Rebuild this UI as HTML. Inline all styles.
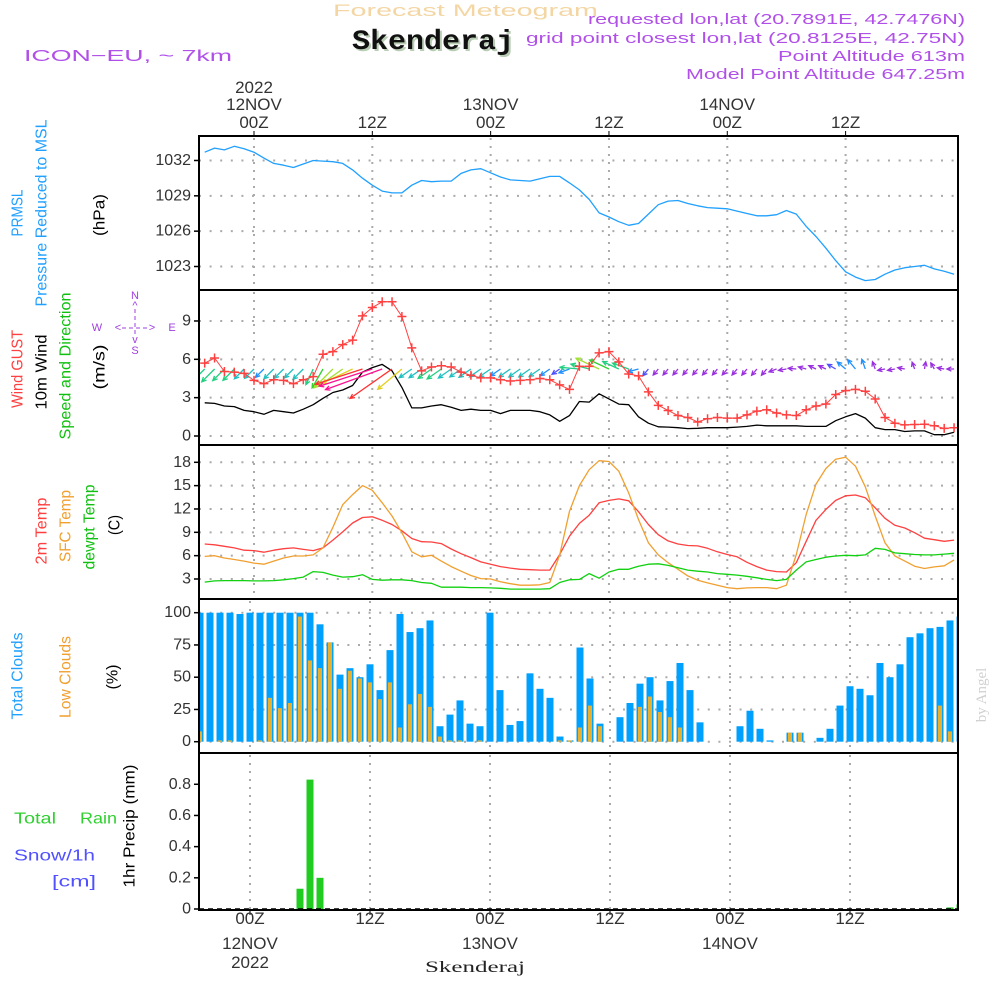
<!DOCTYPE html>
<html><head><meta charset="utf-8"><title>Meteogram Skenderaj</title>
<style>
html,body{margin:0;padding:0;background:#fff;}
svg{display:block;font-family:"Liberation Sans",sans-serif;}
</style></head>
<body>
<svg id="chart" width="1000" height="1000" viewBox="0 0 1000 1000" xmlns="http://www.w3.org/2000/svg">
<defs><clipPath id="plotclip"><rect x="200" y="136" width="758" height="774"/></clipPath></defs>
<rect x="0" y="0" width="1000" height="1000" fill="#fff"/>
<!-- header -->
<text x="333" y="16" textLength="265" lengthAdjust="spacingAndGlyphs" font-size="17" fill="#f3d6a4">Forecast Meteogram</text>
<text x="354" y="51" textLength="162" lengthAdjust="spacingAndGlyphs" font-family="Liberation Mono, monospace" font-weight="bold" font-size="28" fill="#b9cdb5">Skenderaj</text>
<text x="352" y="49" textLength="162" lengthAdjust="spacingAndGlyphs" font-family="Liberation Mono, monospace" font-weight="bold" font-size="28" fill="#111">Skenderaj</text>
<text x="24" y="61" textLength="208" lengthAdjust="spacingAndGlyphs" font-size="16" fill="#b050e8">ICON−EU, ~ 7km</text>
<g font-size="15" fill="#b050e8" text-anchor="end">
<text x="965" y="24" textLength="377" lengthAdjust="spacingAndGlyphs">requested lon,lat (20.7891E, 42.7476N)</text>
<text x="965" y="43" textLength="439" lengthAdjust="spacingAndGlyphs">grid point closest lon,lat (20.8125E, 42.75N)</text>
<text x="965" y="61" textLength="187" lengthAdjust="spacingAndGlyphs">Point Altitude 613m</text>
<text x="965" y="79" textLength="279" lengthAdjust="spacingAndGlyphs">Model Point Altitude 647.25m</text>
</g>
<text transform="rotate(-90 982 695)" x="982" y="695" text-anchor="middle" dominant-baseline="central" font-family="Liberation Serif, serif" font-size="15" fill="#d0d0d0">by Angel</text>

<!-- left labels -->
<g font-size="16" text-anchor="middle" dominant-baseline="central">
<text transform="rotate(-90 18 213)" x="18" y="213" textLength="47" lengthAdjust="spacingAndGlyphs" fill="#20a0ff">PRMSL</text>
<text transform="rotate(-90 42 213)" x="42" y="213" textLength="187" lengthAdjust="spacingAndGlyphs" fill="#20a0ff">Pressure Reduced to MSL</text>
<text transform="rotate(-90 100 215)" x="100" y="215" textLength="42" lengthAdjust="spacingAndGlyphs" fill="#000">(hPa)</text>
<text transform="rotate(-90 18 369)" x="18" y="369" textLength="78" lengthAdjust="spacingAndGlyphs" fill="#ff4040">Wind GUST</text>
<text transform="rotate(-90 42 372)" x="42" y="372" textLength="75" lengthAdjust="spacingAndGlyphs" fill="#000">10m Wind</text>
<text transform="rotate(-90 66 366)" x="66" y="366" textLength="147" lengthAdjust="spacingAndGlyphs" fill="#10c010">Speed and Direction</text>
<text transform="rotate(-90 100 367)" x="100" y="367" textLength="45" lengthAdjust="spacingAndGlyphs" fill="#000">(m/s)</text>
<text transform="rotate(-90 42 531)" x="42" y="531" textLength="67" lengthAdjust="spacingAndGlyphs" fill="#ff4040">2m Temp</text>
<text transform="rotate(-90 66 526)" x="66" y="526" textLength="72" lengthAdjust="spacingAndGlyphs" fill="#f0a030">SFC Temp</text>
<text transform="rotate(-90 90 527)" x="90" y="527" textLength="85" lengthAdjust="spacingAndGlyphs" fill="#10c010">dewpt Temp</text>
<text transform="rotate(-90 115 525)" x="115" y="525" textLength="20" lengthAdjust="spacingAndGlyphs" fill="#000">(C)</text>
<text transform="rotate(-90 18 676)" x="18" y="676" textLength="87" lengthAdjust="spacingAndGlyphs" fill="#20a0ff">Total Clouds</text>
<text transform="rotate(-90 66 677)" x="66" y="677" textLength="82" lengthAdjust="spacingAndGlyphs" fill="#f0a030">Low Clouds</text>
<text transform="rotate(-90 113 677)" x="113" y="677" textLength="25" lengthAdjust="spacingAndGlyphs" fill="#000">(%)</text>
<text transform="rotate(-90 130 826)" x="130" y="826" textLength="123" lengthAdjust="spacingAndGlyphs" fill="#000">1hr Precip (mm)</text>
</g>
<g font-size="16" dominant-baseline="central">
<text x="14" y="819" textLength="42" lengthAdjust="spacingAndGlyphs" fill="#30d030">Total</text>
<text x="80" y="819" textLength="37" lengthAdjust="spacingAndGlyphs" fill="#30d030">Rain</text>
<text x="14" y="856" textLength="81" lengthAdjust="spacingAndGlyphs" fill="#5050ff">Snow/1h</text>
<text x="52" y="882" textLength="44" lengthAdjust="spacingAndGlyphs" fill="#5050ff">[cm]</text>
</g>
<g font-size="11" fill="#a040e0" text-anchor="middle" dominant-baseline="central">
<text x="135" y="296">N</text><text x="135" y="306">^</text>
<text x="97" y="328">W</text><text x="118" y="328">&lt;</text><text x="152" y="328">&gt;</text><text x="172" y="328">E</text>
<text x="135" y="340">v</text><text x="135" y="351">S</text>
<line x1="122" y1="328" x2="148" y2="328" stroke="#a040e0" stroke-width="1" stroke-dasharray="4,3"/>
<line x1="135" y1="309" x2="135" y2="337" stroke="#a040e0" stroke-width="1" stroke-dasharray="4,3"/>
</g>
<g id="grid"></g>
<g id="marks" clip-path="url(#plotclip)"></g>
<g id="axes"></g>
<text x="475" y="972" text-anchor="middle" font-family="Liberation Serif, serif" font-size="16" textLength="100" lengthAdjust="spacingAndGlyphs" fill="#222">Skenderaj</text>
</svg>
<script>
// hourly data, index 0 = hour -5 (11NOV 19Z) ... index 76 = hour 71
const hours = Array.from({length: 77}, (_, i) => i - 5);
const pressure = [1032.7,1033.05,1032.9,1033.2,1033.0,1032.7,1032.2,1031.75,1031.6,1031.4,1031.7,1032.0,1031.95,1031.9,1031.75,1031.2,1030.5,1029.9,1029.4,1029.25,1029.25,1029.9,1030.3,1030.2,1030.25,1030.25,1030.9,1031.2,1031.3,1030.95,1030.6,1030.35,1030.3,1030.25,1030.45,1030.65,1030.65,1030.1,1029.5,1028.7,1027.55,1027.2,1026.8,1026.5,1026.65,1027.45,1028.25,1028.55,1028.6,1028.35,1028.15,1028.0,1027.95,1027.9,1027.7,1027.5,1027.3,1027.3,1027.4,1027.75,1027.45,1026.4,1025.55,1024.55,1023.5,1022.55,1022.1,1021.8,1021.9,1022.35,1022.7,1022.9,1023.0,1023.1,1022.8,1022.6,1022.35];
const gust = [5.7,6.1,5.05,5.0,4.9,4.35,4.1,4.4,4.35,4.1,4.4,4.65,6.4,6.6,7.15,7.5,9.4,10.05,10.5,10.5,9.35,6.9,5.1,5.4,5.5,5.4,5.0,4.75,4.55,4.55,4.4,4.3,4.35,4.4,4.5,4.4,4.0,3.65,5.45,5.45,6.5,6.6,5.8,4.85,4.7,3.45,2.4,2.0,1.6,1.45,1.1,1.35,1.45,1.4,1.4,1.65,1.95,2.05,1.8,1.65,1.6,2.05,2.35,2.5,3.25,3.55,3.65,3.5,2.9,1.45,1.0,0.87,0.9,0.92,0.8,0.6,0.65];
const windSpeed = [2.6,2.55,2.35,2.3,2.0,1.9,1.7,2.0,1.9,1.8,2.1,2.45,2.95,3.4,3.6,3.95,5.0,5.35,5.6,5.1,3.8,2.2,2.2,2.35,2.45,2.25,2.0,2.1,2.0,2.0,1.75,2.0,2.0,2.0,1.9,1.65,1.15,1.6,2.7,2.65,3.3,2.9,2.5,2.45,1.5,1.0,0.72,0.7,0.65,0.58,0.6,0.65,0.65,0.65,0.7,0.75,0.85,0.8,0.8,0.8,0.8,0.75,0.75,0.75,1.2,1.5,1.75,1.4,0.65,0.5,0.5,0.35,0.4,0.4,0.1,0.1,0.3];
const windDirDeg = [225,225,225,225,225,225,225,225,225,225,225,245,240,225,215,205,198,198,200,215,220,215,215,215,215,215,215,215,215,215,215,215,215,215,215,215,215,200,175,165,155,155,155,160,195,230,230,230,230,230,230,230,230,230,230,230,230,230,200,190,175,165,155,155,150,140,130,110,110,190,190,170,110,80,120,170,180];
const temp2m = [7.5,7.4,7.2,7.0,6.7,6.65,6.45,6.7,6.9,7.0,6.8,6.65,7.0,8.0,9.05,10.2,10.9,11.0,10.55,10.0,9.2,8.2,7.8,7.75,7.55,6.85,6.25,5.75,5.2,4.9,4.6,4.4,4.25,4.2,4.15,4.15,6.15,8.5,10.15,11.2,12.8,13.1,13.3,13.05,11.65,10.0,8.7,7.9,7.5,7.3,7.25,6.95,6.5,6.15,5.85,5.15,4.6,4.15,3.95,3.9,5.1,7.85,10.55,11.95,13.1,13.7,13.8,13.45,12.15,10.8,9.9,9.55,8.95,8.25,8.05,7.85,8.0];
const tempSfc = [5.9,6.0,5.7,5.5,5.3,5.05,4.9,5.3,5.7,5.95,5.95,6.1,7.0,9.65,12.55,13.85,15.0,14.4,12.8,11.1,8.95,6.5,5.85,6.05,5.3,4.6,4.0,3.45,3.05,3.0,2.65,2.4,2.2,2.2,2.25,2.55,6.1,11.7,15.0,17.05,18.2,18.1,16.85,14.05,10.65,7.65,6.1,5.1,4.25,3.4,2.85,2.5,2.2,1.9,1.75,1.85,1.9,1.9,1.75,2.2,6.15,11.3,15.2,17.2,18.4,18.65,17.5,14.85,11.1,7.65,5.95,5.3,4.65,4.35,4.55,4.7,5.45];
const dewpt = [2.6,2.75,2.8,2.8,2.8,2.75,2.75,2.8,2.9,3.05,3.25,3.95,3.85,3.5,3.25,3.3,3.55,2.95,2.85,2.9,2.9,2.8,2.55,2.45,1.95,1.95,1.95,1.9,1.9,1.85,1.8,1.7,1.7,1.7,1.7,1.75,2.55,2.9,2.95,3.7,3.1,3.9,4.25,4.25,4.65,4.9,4.95,4.75,4.45,4.15,4.0,3.9,3.7,3.6,3.5,3.35,3.15,2.95,2.8,2.95,4.15,5.2,5.5,5.8,5.95,6.05,6.0,6.1,6.95,6.8,6.35,6.25,6.15,6.1,6.1,6.2,6.3];
const totalClouds = [100,100,100,100,99,100,100,100,100,100,100,100,91,77,52,57,50,60,40,71,99,85,88,94,12,21,32,14,12,100,40,13,16,53,41,34,4,1,73,49,14,0,19,30,45,50,32,47,61,40,15,0,0,0,12,24,10,1,0,7,7,0,3,10,28,43,41,36,61,50,60,81,84,88,89,94,97];
const lowClouds = [8,0,1,1,0,0,1,34,26,30,97,63,57,77,41,55,49,46,33,46,11,29,37,27,4,1,1,0,1,0,0,0,0,0,0,0,1,1,11,28,12,0,0,0,27,35,23,19,11,0,0,0,0,0,0,0,0,0,0,7,7,0,0,0,0,0,0,0,0,0,0,0,0,0,28,8,7];
const precip = [0,0,0,0,0,0,0,0,0,0,0.13,0.83,0.2,0,0,0,0,0,0,0,0,0,0,0,0,0,0,0,0,0,0,0,0,0,0,0,0,0,0,0,0,0,0,0,0,0,0,0,0,0,0,0,0,0,0,0,0,0,0,0,0,0,0,0,0,0,0,0,0,0,0,0,0,0,0,0.01,0.03];
const pressureTicks = [1023,1026,1029,1032];
const windTicks = [0,3,6,9];
const tempTicks = [3,6,9,12,15,18];
const cloudTicks = [0,25,50,75,100];
const precipTicks = ["0","0.2","0.4","0.6","0.8"];
const timeTickHours = [0,12,24,36,48,60];
const timeTickLabels = ["00Z","12Z","00Z","12Z","00Z","12Z"];
const dayLabels = ["12NOV","","13NOV","","14NOV",""];

const NS = "http://www.w3.org/2000/svg";
const gGrid = document.getElementById('grid');
const gMarks = document.getElementById('marks');
const gAxes = document.getElementById('axes');
function mk(parent, tag, attrs, text) {
  const el = document.createElementNS(NS, tag);
  for (const k in attrs) el.setAttribute(k, attrs[k]);
  if (text !== undefined) el.textContent = text;
  parent.appendChild(el);
  return el;
}
const XL = 199, XR = 958;
const xTop = h => 254 + 9.86 * h;
const xBot = h => 250 + 10 * h;
const yP = p => 266.5 - (p - 1023) * 11.78;
const yW = v => 436 - v * 12.78;
const yT = t => 579 - (t - 3) * 7.78;
const yC = c => 741.7 - c * 1.29;
const yR = r => 909 - r * 155.9;
const panels = [[136,290],[290,445],[445,599],[599,753],[753,910]];
const TXT = '#333';

function hgrid(y, name) {
  const el = mk(gGrid, 'line', {x1: XL, x2: XR, y1: y, y2: y, stroke: '#aaa', 'stroke-width': 2, 'stroke-dasharray': '2,8.6'});
  
  
}
function vgrid(x, y1, y2) {
  const el = mk(gGrid, 'line', {x1: x, x2: x, y1: y1, y2: y2, stroke: '#aaa', 'stroke-width': 2, 'stroke-dasharray': '2,6'});
  
  
}
pressureTicks.forEach(v => hgrid(yP(v), 'pressure-gridline'));
windTicks.forEach(v => hgrid(yW(v), 'wind-gridline'));
tempTicks.forEach(v => hgrid(yT(v), 'temp-gridline'));
cloudTicks.forEach(v => hgrid(yC(v), 'cloud-gridline'));
timeTickHours.forEach(h => {
  for (let p = 0; p < 3; p++) vgrid(xTop(h), panels[p][0] + 2, panels[p][1] - 1);
  for (let p = 3; p < 5; p++) vgrid(xBot(h), panels[p][0] + 2, panels[p][1] - 1);
});

function ytick(y, label, name) {
  const t = mk(gAxes, 'line', {x1: XL - 5, x2: XL, y1: y, y2: y, stroke: '#000', 'stroke-width': 1.5});
  
  
  const el = mk(gAxes, 'text', {x: XL - 8, y: y, 'text-anchor': 'end', 'dominant-baseline': 'central', 'font-size': 16, fill: TXT}, label);
  
  
}
pressureTicks.forEach(v => ytick(yP(v), String(v), 'pressure'));
windTicks.forEach(v => ytick(yW(v), String(v), 'wind'));
tempTicks.forEach(v => ytick(yT(v), String(v), 'temp'));
cloudTicks.forEach(v => ytick(yC(v), String(v), 'cloud'));
precipTicks.forEach(v => ytick(yR(parseFloat(v)), v, 'precip'));

panels.forEach((p, i) => {
  const r = mk(gAxes, 'rect', {x: XL, y: p[0], width: XR - XL, height: p[1] - p[0], fill: 'none', stroke: '#000', 'stroke-width': 2});
  
  
});
const base = mk(gAxes, 'line', {x1: XL, x2: XR, y1: yR(0), y2: yR(0), stroke: '#000', 'stroke-width': 1.5, 'stroke-dasharray': '5,4'});



timeTickHours.forEach((h, i) => {
  const xt = xTop(h), xb = xBot(h);
  const tt = mk(gAxes, 'line', {x1: xt, x2: xt, y1: 131, y2: 136, stroke: '#000', 'stroke-width': 1});
  
  
  const tl = mk(gAxes, 'text', {x: xt, y: 128, 'text-anchor': 'middle', 'font-size': 17, fill: TXT}, timeTickLabels[i]);
  
  
  if (dayLabels[i]) {
    const dl = mk(gAxes, 'text', {x: xt, y: 110, 'text-anchor': 'middle', 'font-size': 17, fill: TXT}, dayLabels[i]);
    
    
  }
  const bt = mk(gAxes, 'line', {x1: xb, x2: xb, y1: 910, y2: 915, stroke: '#000', 'stroke-width': 1});
  
  
  const bl = mk(gAxes, 'text', {x: xb, y: 924, 'text-anchor': 'middle', 'font-size': 17, fill: TXT}, timeTickLabels[i]);
  
  
  if (dayLabels[i]) {
    const bd = mk(gAxes, 'text', {x: xb, y: 949, 'text-anchor': 'middle', 'font-size': 17, fill: TXT}, dayLabels[i]);
    
    
  }
});
const yr1 = mk(gAxes, 'text', {x: xTop(0), y: 93, 'text-anchor': 'middle', 'font-size': 17, fill: TXT}, '2022');


const yr2 = mk(gAxes, 'text', {x: xBot(0), y: 968, 'text-anchor': 'middle', 'font-size': 17, fill: TXT}, '2022');



function line(vals, yf, color, name, w) {
  const pts = vals.map((v, i) => xTop(hours[i]).toFixed(1) + ',' + yf(v).toFixed(1)).join(' ');
  const el = mk(gMarks, 'polyline', {points: pts, fill: 'none', stroke: color, 'stroke-width': w || 1.3, 'stroke-linejoin': 'round'});
  
  
}
totalClouds.forEach((v, i) => {
  const x = xBot(hours[i]);
  const b = mk(gMarks, 'rect', {x: x - 3.5, y: yC(v), width: 7, height: yC(0) - yC(v), fill: '#00a0ff'});
  
  
});
lowClouds.forEach((v, i) => {
  const x = xBot(hours[i]);
  const b = mk(gMarks, 'rect', {x: x - 2, y: yC(v), width: 4, height: yC(0) - yC(v), fill: '#e8b030'});
  
  
});
precip.forEach((v, i) => {
  if (v <= 0) return;
  const x = xBot(hours[i]);
  const b = mk(gMarks, 'rect', {x: x - 3.5, y: yR(v), width: 7, height: yR(0) - yR(v), fill: '#20cc20'});
  
  
});
line(pressure, yP, '#20a0ff', 'pressure-line');
line(temp2m, yT, '#ff4040', 'temp-2m-line');
line(tempSfc, yT, '#f0a030', 'temp-sfc-line');
line(dewpt, yT, '#10d010', 'dewpt-line');
line(windSpeed, yW, '#000', 'wind-speed-line');

function windColor(s) {
  if (s < 0.9) return '#9a30e0';
  if (s < 1.3) return '#5050ff';
  if (s < 1.8) return '#2090ff';
  if (s < 2.3) return '#20c0c0';
  if (s < 2.8) return '#20d080';
  if (s < 3.3) return '#30d030';
  if (s < 3.8) return '#a0e030';
  if (s < 4.5) return '#e0d020';
  if (s < 5.2) return '#ff3030';
  return '#ff1090';
}
windSpeed.forEach((s, i) => {
  const x0 = xTop(hours[i]), y0 = 369;
  const a = windDirDeg[i] * Math.PI / 180;
  const L = 7 + 1.7 * s * s;
  const x1 = x0 + L * Math.cos(a), y1 = y0 - L * Math.sin(a);
  const hl = 5;
  const a1 = a + Math.PI - 0.45, a2 = a + Math.PI + 0.45;
  const d = 'M' + x0.toFixed(1) + ',' + y0 + 'L' + x1.toFixed(1) + ',' + y1.toFixed(1) +
    'M' + (x1 + hl * Math.cos(a1)).toFixed(1) + ',' + (y1 - hl * Math.sin(a1)).toFixed(1) + 'L' + x1.toFixed(1) + ',' + y1.toFixed(1) +
    'L' + (x1 + hl * Math.cos(a2)).toFixed(1) + ',' + (y1 - hl * Math.sin(a2)).toFixed(1);
  const el = mk(gMarks, 'path', {d: d, fill: 'none', stroke: windColor(s), 'stroke-width': 1.3});
  
  
});

line(gust, yW, '#ff4040', 'gust-line', 1);
gust.forEach((v, i) => {
  const x = xTop(hours[i]), y = yW(v);
  const el = mk(gMarks, 'path', {d: 'M' + (x - 4.5) + ',' + y + 'h9M' + x + ',' + (y - 4.5) + 'v9', stroke: '#ff4040', 'stroke-width': 1.5});
  
  
});
</script>
</body></html>
